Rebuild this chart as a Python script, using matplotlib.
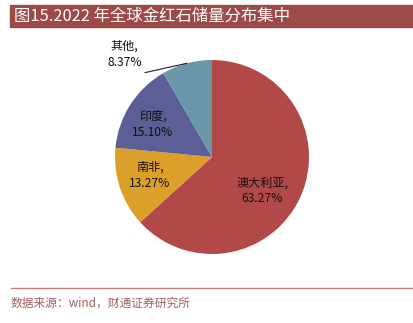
import numpy as np
import matplotlib
matplotlib.use("Agg")
import matplotlib.pyplot as plt
from matplotlib.patches import Rectangle

plt.rcParams['font.family'] = ['Noto Sans CJK SC', 'DejaVu Sans']

# data
countries = ["澳大利亚", "南非", "印度", "其他"]
shares = [63.27, 13.27, 15.10, 8.37]
colours = ["#b24948", "#dc9f2a", "#5b5f95", "#6996a9"]

title = "图15.2022 年全球金红石储量分布集中"
source = "数据来源：wind，财通证券研究所"

W, H = 413, 323
fig = plt.figure(figsize=(W / 100, H / 100), dpi=100)

# title bar
fig.patches.append(Rectangle((10 / W, 1 - 27 / H), (W - 10) / W, 22 / H,
                             transform=fig.transFigure, color="#9c4a47", zorder=0))
fig.text(14 / W, 1 - 16.5 / H, title, color="white", fontsize=11.8,
         va="center", ha="left")

# footer
fig.add_artist(plt.Line2D([11 / W, 1], [1 - 287.5 / H] * 2,
                          transform=fig.transFigure, color="#c27c78", lw=1))
fig.text(11 / W, 1 - 303 / H, source, color="#a0605c", fontsize=8.5,
         va="center", ha="left")

# pie
cx, cy, r = 212, 157, 97
ax = fig.add_axes([(cx - r) / W, (H - cy - r) / H, 2 * r / W, 2 * r / H])
wedges, _ = ax.pie(shares, colors=colours, startangle=90, counterclock=False,
                   wedgeprops=dict(linewidth=0))
ax.set_xlim(-1, 1); ax.set_ylim(-1, 1)
ax.set_aspect("auto")
ax.axis("off")

label_pos = [(0.52, -0.35), (-0.64, -0.19), (-0.61, 0.34), (-0.90, 1.06)]
for name, val, (x, y) in zip(countries, shares, label_pos):
    ax.text(x, y, f"{name},\n{val:.2f}%", ha="center", va="center",
            fontsize=8.7, color="#111111", linespacing=1.3, clip_on=False)

# leader line for the small slice
w = wedges[3]
mid = np.deg2rad((w.theta1 + w.theta2) / 2)
ax.plot([-0.69, np.cos(mid)], [0.87, np.sin(mid)], color="#222222", lw=0.8,
        clip_on=False)

fig.savefig("out.png", dpi=100)
